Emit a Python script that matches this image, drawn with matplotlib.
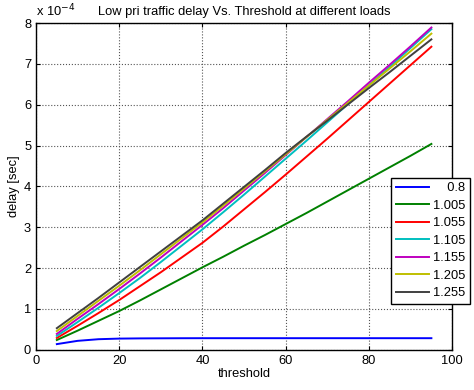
import matplotlib
matplotlib.use("Agg")
import matplotlib.pyplot as plt

plt.rcParams['font.family'] = ['Liberation Sans', 'DejaVu Sans']

# threshold values and delay (in units of 1e-4 sec) per load
threshold = [5, 10, 15, 20, 25, 30, 35, 40, 45, 50, 55, 60, 65, 70, 75, 80, 85, 90, 95]

loads = ['0.8', '1.005', '1.055', '1.105', '1.155', '1.205', '1.255']

delay_080 = [0.14, 0.22, 0.26, 0.275, 0.28, 0.282, 0.284, 0.285, 0.285, 0.285,
             0.285, 0.285, 0.285, 0.285, 0.285, 0.285, 0.285, 0.285, 0.285]
delay_1005 = [0.24, 0.47, 0.71, 0.95, 1.21, 1.48, 1.75, 2.02, 2.28, 2.55,
              2.81, 3.08, 3.35, 3.63, 3.91, 4.19, 4.47, 4.75, 5.04]
delay_1055 = [0.29, 0.59, 0.90, 1.22, 1.56, 1.90, 2.26, 2.62, 3.02, 3.44,
              3.86, 4.29, 4.73, 5.17, 5.62, 6.07, 6.52, 6.97, 7.42]
delay_1105 = [0.34, 0.68, 1.03, 1.39, 1.76, 2.15, 2.55, 2.95, 3.37, 3.80,
              4.24, 4.68, 5.12, 5.57, 6.02, 6.48, 6.93, 7.39, 7.85]
delay_1155 = [0.39, 0.76, 1.12, 1.49, 1.87, 2.26, 2.66, 3.06, 3.47, 3.90,
              4.33, 4.77, 5.21, 5.65, 6.09, 6.54, 6.98, 7.43, 7.89]
delay_1205 = [0.46, 0.83, 1.20, 1.57, 1.95, 2.34, 2.73, 3.12, 3.53, 3.95,
              4.37, 4.79, 5.21, 5.63, 6.05, 6.47, 6.89, 7.31, 7.74]
delay_1255 = [0.53, 0.90, 1.27, 1.65, 2.03, 2.41, 2.79, 3.17, 3.58, 3.99,
              4.40, 4.82, 5.22, 5.61, 6.01, 6.41, 6.80, 7.20, 7.60]

series = [delay_080, delay_1005, delay_1055, delay_1105, delay_1155, delay_1205, delay_1255]
colors = ['#0000ff', '#008000', '#ff0000', '#00bfbf', '#bf00bf', '#bfbf00', '#404040']

fs = 9.3
fig = plt.figure(figsize=(4.74, 3.9), dpi=100)
ax = fig.add_axes([0.076, 0.103, 0.878, 0.838])

for load, d, c in zip(loads, series, colors):
    # pad short labels with figure spaces so the numbers line up on the right
    pad = '\u2007' * (5 - len(load))
    ax.plot(threshold, d, color=c, linewidth=1.4, label=pad + load)

ax.set_xlim(0, 100)
ax.set_ylim(0, 8)
ax.set_xticks(range(0, 101, 20))
ax.set_yticks(range(0, 9))
ax.grid(True, linestyle=':', color='#555555', linewidth=0.8)
ax.tick_params(direction='in', top=True, right=True, labelsize=fs, length=3)
for s in ax.spines.values():
    s.set_linewidth(1.0)

ax.set_xlabel('threshold', fontsize=fs, labelpad=1)
ax.set_ylabel('delay [sec]', fontsize=fs, labelpad=3)
ax.set_title('Low pri traffic delay Vs. Threshold at different loads', fontsize=fs, pad=6)
ax.text(0.0, 1.012, 'x 10$^{-4}$', transform=ax.transAxes, fontsize=fs,
        ha='left', va='bottom')

leg = ax.legend(loc='lower left', bbox_to_anchor=(0.853, 0.141), borderaxespad=0,
                fontsize=fs, handlelength=2.6, labelspacing=0.42, fancybox=False,
                framealpha=1, edgecolor='black', borderpad=0.35, handletextpad=0.3)
leg.get_frame().set_linewidth(1.0)

fig.savefig('out.png', dpi=100)
